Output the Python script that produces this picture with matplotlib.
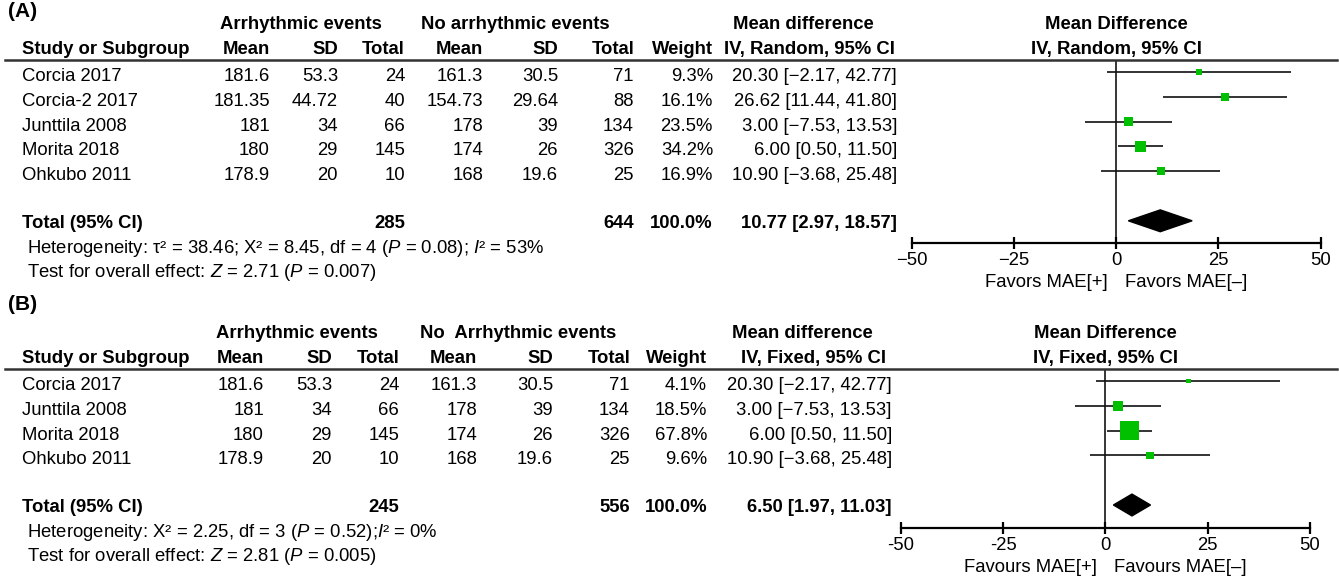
import matplotlib
matplotlib.use('Agg')
import matplotlib.pyplot as plt
import matplotlib.transforms as mtransforms
from matplotlib.lines import Line2D
from matplotlib.patches import Polygon

plt.rcParams['font.family'] = ['Liberation Sans', 'DejaVu Sans']
plt.rcParams['mathtext.fontset'] = 'custom'
plt.rcParams['mathtext.rm'] = 'Liberation Sans'
plt.rcParams['mathtext.it'] = 'Liberation Sans:italic'

# ---- panel A data (random effects) ----
studies_a = ['Corcia 2017', 'Corcia-2 2017', 'Junttila 2008', 'Morita 2018', 'Ohkubo 2011']
mean1_a = ['181.6', '181.35', '181', '180', '178.9']
sd1_a = ['53.3', '44.72', '34', '29', '20']
n1_a = [24, 40, 66, 145, 10]
mean2_a = ['161.3', '154.73', '178', '174', '168']
sd2_a = ['30.5', '29.64', '39', '26', '19.6']
n2_a = [71, 88, 134, 326, 25]
weight_a = [9.3, 16.1, 23.5, 34.2, 16.9]
md_a = [20.30, 26.62, 3.00, 6.00, 10.90]
lo_a = [-2.17, 11.44, -7.53, 0.50, -3.68]
hi_a = [42.77, 41.80, 13.53, 11.50, 25.48]
total_a = (285, 644, 10.77, 2.97, 18.57)
het_a = r'Heterogeneity: τ² = 38.46; Χ² = 8.45, df = 4 ($P$ = 0.08); $I$² = 53%'
test_a = r'Test for overall effect: $Z$ = 2.71 ($P$ = 0.007)'

# ---- panel B data (fixed effect) ----
studies_b = ['Corcia 2017', 'Junttila 2008', 'Morita 2018', 'Ohkubo 2011']
mean1_b = ['181.6', '181', '180', '178.9']
sd1_b = ['53.3', '34', '29', '20']
n1_b = [24, 66, 145, 10]
mean2_b = ['161.3', '178', '174', '168']
sd2_b = ['30.5', '39', '26', '19.6']
n2_b = [71, 134, 326, 25]
weight_b = [4.1, 18.5, 67.8, 9.6]
md_b = [20.30, 3.00, 6.00, 10.90]
lo_b = [-2.17, -7.53, 0.50, -3.68]
hi_b = [42.77, 13.53, 11.50, 25.48]
total_b = (245, 556, 6.50, 1.97, 11.03)
het_b = r'Heterogeneity: Χ² = 2.25, df = 3 ($P$ = 0.52);$I$² = 0%'
test_b = r'Test for overall effect: $Z$ = 2.81 ($P$ = 0.005)'

W, H = 1339, 576
FS = 13.3
GREEN = '#00c000'

fig = plt.figure(figsize=(W / 100, H / 100), dpi=100)


def fmt(v):
    return f'{v:.2f}'.replace('-', '\u2212')


def ci_label(m, l, h):
    return f'{fmt(m)} [{fmt(l)}, {fmt(h)}]'


def panel(letter, letter_y, cols, grp, method, rows, total, het, test,
          ax_l, ax_r, line_top, axis_y, row0, box_k, ticklabels, fav):
    studies, m1, s1, n1, m2, s2, n2, w, md, lo, hi = rows
    step = 24.8
    y_top = (line_top - row0) / step
    y_bot = (axis_y - row0) / step
    ax = fig.add_axes([ax_l / W, 1 - axis_y / H, (ax_r - ax_l) / W, (axis_y - line_top) / H])
    ax.set_xlim(-50, 50)
    ax.set_ylim(y_bot, y_top)
    for s in ['top', 'left', 'right']:
        ax.spines[s].set_visible(False)
    ax.spines['bottom'].set_linewidth(1.6)
    ax.set_yticks([])
    ax.set_xticks([-50, -25, 0, 25, 50])
    ax.set_xticklabels(ticklabels, fontsize=FS)
    ax.tick_params(axis='x', direction='inout', length=9, width=1.6, pad=2)
    ax.axvline(0, color='black', lw=1.1, zorder=1)

    r = list(range(len(studies)))
    rt = len(studies) + 1
    # confidence intervals and weighted boxes
    ax.hlines(r, lo, hi, color='#111111', lw=1.2, zorder=2)
    sizes = [(box_k * v ** 0.5 * 0.72) ** 2 for v in w]
    ax.scatter(md, r, marker='s', s=sizes, color=GREEN, linewidths=0, zorder=3)
    tm, tl, th = total[2], total[3], total[4]
    dh = 0.44
    ax.add_patch(Polygon([(tl, rt), (tm, rt - dh), (th, rt), (tm, rt + dh)],
                         closed=True, color='black', zorder=3))

    # header line across the whole table
    fig.add_artist(Line2D([5 / W, 1337 / W], [1 - line_top / H] * 2, color='#333333', lw=1.8))

    tr = mtransforms.blended_transform_factory(fig.transFigure, ax.transData)
    tra = mtransforms.blended_transform_factory(ax.transAxes, ax.transData)

    def t(x, y, s, ha='left', bold=False, size=FS):
        ax.text(x / W, y, s, transform=tr, ha=ha, va='baseline', fontsize=size,
                fontweight='bold' if bold else 'normal', clip_on=False)

    t(8, letter_y, letter, bold=True, size=15)
    gy = -1.72
    t(grp[0][1], gy, grp[0][0], ha='center', bold=True)
    t(grp[1][1], gy, grp[1][0], ha='center', bold=True)
    t(grp[2], gy, 'Mean difference', ha='center', bold=True)
    ax.text(0.5, gy, 'Mean Difference', transform=tra, ha='center', va='baseline',
            fontsize=FS, fontweight='bold', clip_on=False)

    hy = -0.72
    heads = ['Mean', 'SD', 'Total', 'Mean', 'SD', 'Total', 'Weight']
    t(22, hy, 'Study or Subgroup', bold=True)
    for name, x in zip(heads, cols[:7]):
        t(x, hy, name, ha='right', bold=True)
    t(cols[7], hy, method, ha='right', bold=True)
    ax.text(0.5, hy, method, transform=tra, ha='center', va='baseline',
            fontsize=FS, fontweight='bold', clip_on=False)

    off = 0.36
    for i in r:
        y = i + off
        t(22, y, studies[i])
        vals = [m1[i], s1[i], str(n1[i]), m2[i], s2[i], str(n2[i]), f'{w[i]:.1f}%']
        for v, x in zip(vals, cols[:7]):
            t(x, y, v, ha='right')
        t(cols[8], y, ci_label(md[i], lo[i], hi[i]), ha='right')

    y = rt + 0.28
    t(22, y, 'Total (95% CI)', bold=True)
    t(cols[2], y, str(total[0]), ha='right', bold=True)
    t(cols[5], y, str(total[1]), ha='right', bold=True)
    t(cols[6], y, '100.0%', ha='right', bold=True)
    t(cols[8], y, ci_label(tm, tl, th), ha='right', bold=True)
    t(27, rt + 1.3, het)
    t(27, rt + 2.27, test)

    ax.annotate(fav[0], xy=(0, 0), xycoords=('data', 'axes fraction'), xytext=(-8, -39),
                textcoords='offset pixels', ha='right', va='center', fontsize=FS)
    ax.annotate(fav[1], xy=(0, 0), xycoords=('data', 'axes fraction'), xytext=(9, -39),
                textcoords='offset pixels', ha='left', va='center', fontsize=FS)
    return ax


panel('(A)', -2.2, [270, 338, 405, 483, 558, 634, 713, 895, 897],
      [('Arrhythmic events', 301), ('No arrhythmic events', 515), 803],
      'IV, Random, 95% CI',
      (studies_a, mean1_a, sd1_a, n1_a, mean2_a, sd2_a, n2_a, weight_a, md_a, lo_a, hi_a),
      total_a, het_a, test_a,
      911.7, 1320.7, 60, 243.3, 72, 1.95,
      ['\u221250', '\u221225', '0', '25', '50'],
      ('Favors MAE[+]', 'Favors MAE[\u2013]'))

panel('(B)', -2.85, [264, 332, 399, 477, 553, 630, 707, 886, 892],
      [('Arrhythmic events', 297), ('No  Arrhythmic events', 518), 802],
      'IV, Fixed, 95% CI',
      (studies_b, mean1_b, sd1_b, n1_b, mean2_b, sd2_b, n2_b, weight_b, md_b, lo_b, hi_b),
      total_b, het_b, test_b,
      900.7, 1310.0, 369, 528.3, 381, 2.3,
      ['-50', '-25', '0', '25', '50'],
      ('Favours MAE[+]', 'Favours MAE[\u2013]'))

fig.savefig('out.png', dpi=100)
